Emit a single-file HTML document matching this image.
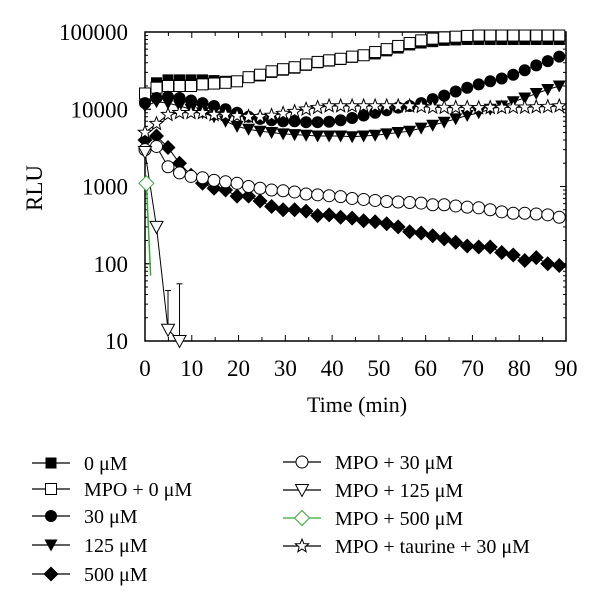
<!DOCTYPE html>
<html><head><meta charset="utf-8"><style>
body{margin:0;background:#fff;width:600px;height:608px;overflow:hidden}
svg{font-family:"Liberation Serif",serif}
</style></head><body>
<svg id="chart" width="600" height="608" viewBox="0 0 600 608" xmlns="http://www.w3.org/2000/svg">
<g id="axes"></g><g id="series"></g><g id="legend"></g>
</svg>
<script>
const times = [0,2.46,4.92,7.38,9.84,12.3,14.76,17.22,19.68,22.14,24.6,27.06,29.52,31.98,34.44,36.9,39.36,41.82,44.28,46.74,49.2,51.66,54.12,56.58,59.04,61.5,63.96,66.42,68.88,71.34,73.8,76.26,78.72,81.18,83.64,86.1,88.56];
const v0 = [15000,22000,24000,24000,24000,24000,23500,23000,23000,26000,27000,30000,32000,34000,37000,40000,42000,44000,47000,50000,52000,57000,62000,68000,72000,75000,78000,79000,80000,80000,80000,80000,80000,80000,80000,80000,80000];
const vMpo0 = [16000,19000,20000,20000,20000,21000,21500,22000,23000,26000,28000,31000,33000,35000,38000,41000,43000,45000,48000,50000,55000,60000,66000,72000,78000,82000,85000,87000,89000,90000,90000,90000,90000,90000,90000,90000,90000];
const v30 = [12000,14000,14500,14000,13000,12000,11000,10000,9000,8000,7500,7200,7000,7000,6800,6800,6900,7200,7700,8300,9000,9700,10500,11000,12000,13500,15000,17000,19000,21000,23000,25000,28000,32000,37000,42000,48000];
const v125 = [11000,12500,12000,11000,10000,9000,8000,7000,6000,5500,5200,5000,4800,4700,4600,4500,4500,4500,4400,4500,4600,4800,5000,5200,5700,6200,6800,7500,8300,9000,10000,11000,12500,14000,16000,18000,20000];
const v500 = [4000,4500,3200,2000,1400,1100,950,900,750,750,650,550,500,500,480,420,430,400,390,360,350,330,300,260,250,230,210,190,170,165,165,140,130,110,120,100,95];
const vMpo30 = [3000,3300,1800,1500,1350,1300,1200,1150,1100,1000,950,900,880,850,800,780,760,740,700,680,660,640,630,620,610,580,580,560,540,530,500,470,450,450,440,430,400];
const vTaur = [5000,6500,8500,9000,9000,9000,8500,8500,8200,8000,8000,8300,8800,9300,10000,10500,11000,11000,11000,11000,11000,11000,11000,11000,10800,10600,10500,10500,10500,10400,10500,10500,10600,10600,10700,10800,11000];
const tMpo125 = [0,2.46,4.92,7.38];
const vMpo125 = [2800,300,14,10];
const tMpo500 = [0.3,1.2];
const vMpo500 = [1100,70];
const xTicks = [0,10,20,30,40,50,60,70,80,90];
const yTicks = [10,100,1000,10000,100000];

const NS="http://www.w3.org/2000/svg";
const X0=145,X1=566,Y0=341,Y1=32;
function xs(t){return X0+(t/90)*(X1-X0);}
function ys(v){return Y0-(Math.log10(v)-1)/4*(Y0-Y1);}
function mk(tag,attrs,parent){const e=document.createElementNS(NS,tag);for(const k in attrs)e.setAttribute(k,attrs[k]);parent.appendChild(e);return e;}
const axes=document.getElementById('axes'),ser=document.getElementById('series'),leg=document.getElementById('legend');

const frame=mk('rect',{x:X0,y:Y1,width:X1-X0,height:Y0-Y1,fill:'none',stroke:'#000','stroke-width':1.5},axes);


for(let t=0;t<=90;t+=5){
  const L=t%10===0?6:4;
  mk('line',{x1:xs(t),x2:xs(t),y1:Y0,y2:Y0-L,stroke:'#000'},axes);
  mk('line',{x1:xs(t),x2:xs(t),y1:Y1,y2:Y1+L,stroke:'#000'},axes);
}
xTicks.forEach(t=>{
  const e=mk('text',{x:xs(t),y:376,'text-anchor':'middle','font-size':23},axes);
  e.textContent=t;
  
  
});
for(let d=1;d<5;d++){for(let m=1;m<=10;m++){const v=Math.pow(10,d)*m;const L=m===1||m===10?6:3;
  mk('line',{x1:X0,x2:X0+L,y1:ys(v),y2:ys(v),stroke:'#000'},axes);
  mk('line',{x1:X1,x2:X1-L,y1:ys(v),y2:ys(v),stroke:'#000'},axes);}}
yTicks.forEach(v=>{
  const e=mk('text',{x:X0-17,y:ys(v)+8,'text-anchor':'end','font-size':23},axes);
  e.textContent=v;
  
  
});
const yt=mk('text',{x:42,y:188,'text-anchor':'middle','font-size':23,transform:'rotate(-90 42 188)'},axes);
yt.textContent='RLU';


const xt=mk('text',{x:357,y:412,'text-anchor':'middle','font-size':22},axes);
xt.textContent='Time (min)';



function marker(type,x,y,g,color){
  const s=5.5,c=color||'#000';
  switch(type){
    case 'sqF':return mk('rect',{x:x-s,y:y-s,width:2*s,height:2*s,fill:'#000'},g);
    case 'sqO':return mk('rect',{x:x-s,y:y-s,width:2*s,height:2*s,fill:'#fff',stroke:'#000'},g);
    case 'ciF':return mk('circle',{cx:x,cy:y,r:s+0.5,fill:'#000'},g);
    case 'ciO':return mk('circle',{cx:x,cy:y,r:s+0.5,fill:'#fff',stroke:'#000'},g);
    case 'trF':return mk('polygon',{points:`${x-s-1},${y-s} ${x+s+1},${y-s} ${x},${y+s+1}`,fill:'#000'},g);
    case 'trO':return mk('polygon',{points:`${x-s-1},${y-s} ${x+s+1},${y-s} ${x},${y+s+1}`,fill:'#fff',stroke:'#000'},g);
    case 'diF':return mk('polygon',{points:`${x},${y-s-2} ${x+s+2},${y} ${x},${y+s+2} ${x-s-2},${y}`,fill:'#000'},g);
    case 'diO':return mk('polygon',{points:`${x},${y-s-2} ${x+s+2},${y} ${x},${y+s+2} ${x-s-2},${y}`,fill:'#fff',stroke:c},g);
    case 'st':{let p=[];for(let i=0;i<10;i++){const r=i%2?3:7,a=-Math.PI/2+i*Math.PI/5;p.push((x+r*Math.cos(a)).toFixed(1)+','+(y+r*Math.sin(a)).toFixed(1));}
      return mk('polygon',{points:p.join(' '),fill:'#fff',stroke:'#000'},g);}
  }
}
function series(name,ts,vs,type,color,onlyFirst){
  const g=mk('g',{},ser);
  
  
  mk('polyline',{points:ts.map((t,i)=>xs(t)+','+ys(vs[i])).join(' '),fill:'none',stroke:color||'#000','stroke-width':color?1.5:1},g);
  ts.forEach((t,i)=>{ if(onlyFirst&&i>0)return;
    const m=marker(type,xs(t),ys(vs[i]),g,color);
    
    
  });
}
series('series-0uM',times,v0,'sqF');
series('series-mpo-0uM',times,vMpo0,'sqO');
series('series-30uM',times,v30,'ciF');
series('series-125uM',times,v125,'trF');
series('series-500uM',times,v500,'diF');
series('series-mpo-30uM',times,vMpo30,'ciO');
series('series-mpo-taurine-30uM',times,vTaur,'st');
[[2,45],[3,55]].forEach(([i,hi])=>{
  const x=xs(tMpo125[i]);
  mk('line',{x1:x,x2:x,y1:ys(vMpo125[i]),y2:ys(hi),stroke:'#000'},ser);
  mk('line',{x1:x-3,x2:x+3,y1:ys(hi),y2:ys(hi),stroke:'#000'},ser);
});
series('series-mpo-125uM',tMpo125,vMpo125,'trO');
series('series-mpo-500uM',tMpo500,vMpo500,'diO','#3a3',true);

const legendItems=[
 ['0 μM','sqF',32,463],['MPO + 0 μM','sqO',32,489],['30 μM','ciF',32,516],['125 μM','trF',32,545],['500 μM','diF',32,574],
 ['MPO + 30 μM','ciO',283,462],['MPO + 125 μM','trO',283,490],['MPO + 500 μM','diO',283,518,'#3a3'],['MPO + taurine + 30 μM','st',283,546]];
legendItems.forEach(([label,type,x,y,color])=>{
  const g=mk('g',{},leg);
  
  
  mk('line',{x1:x,x2:x+38,y1:y,y2:y,stroke:color||'#000','stroke-width':1.3},g);
  marker(type,x+19,y,g,color);
  const t=mk('text',{x:x+52,y:y+7,'font-size':20},g);
  t.textContent=label;
});
</script>
</body></html>
